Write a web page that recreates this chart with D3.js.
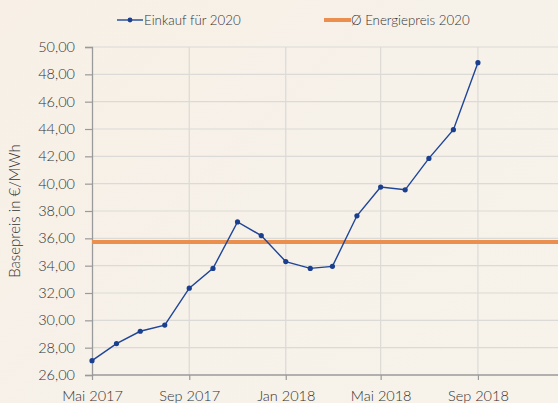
<!DOCTYPE html>
<html>
<head>
<meta charset="utf-8">
<script src="https://cdn.jsdelivr.net/npm/d3@7"></script>
<style>
  html, body { margin: 0; padding: 0; }
  body { width: 558px; height: 403px; overflow: hidden;
    background: linear-gradient(135deg, #f8f0e6 0%, #f6f1e9 50%, #f7f2ea 100%); }
  svg text { font-family: Lato, "Open Sans", sans-serif; font-weight: 300; fill: #333; }
</style>
</head>
<body>
<div id="chart"></div>
<script>
// monthly purchase prices (€/MWh) for 2020 delivery
const months = ["2017-05","2017-06","2017-07","2017-08","2017-09","2017-10","2017-11","2017-12",
  "2018-01","2018-02","2018-03","2018-04","2018-05","2018-06","2018-07","2018-08","2018-09"];
const einkauf = [27.05, 28.3, 29.2, 29.65, 32.35, 33.8, 37.2, 36.2,
  34.3, 33.8, 33.95, 37.65, 39.75, 39.55, 41.85, 43.95, 48.85];
const avgPrice = 35.73;
const yTicks = [26, 28, 30, 32, 34, 36, 38, 40, 42, 44, 46, 48, 50];
const xTicks = ["2017-05","2017-09","2018-01","2018-05","2018-09"];
const monthNames = ["Jan","Feb","Mrz","Apr","Mai","Jun","Jul","Aug","Sep","Okt","Nov","Dez"];

const W = 558, H = 403;
const parse = d3.timeParse("%Y-%m");
const data = months.map((m, i) => ({ date: parse(m), v: einkauf[i] }));

const svg = d3.select("#chart").append("svg")
  .attr("width", W).attr("height", H);

const x = d3.scaleTime()
  .domain([parse("2017-05"), new Date(2018, 11, 10)])
  .range([92, 557]);
const y = d3.scaleLinear().domain([26, 50]).range([375, 47]);

// grid
svg.append("g").selectAll("line").data(yTicks.slice(1)).enter().append("line")
  .attr("x1", 92).attr("x2", W).attr("y1", d => y(d)).attr("y2", d => y(d))
  .style("stroke", "#dcdad6").style("stroke-width", 1.2);
svg.append("g").selectAll("line").data(xTicks.slice(1)).enter().append("line")
  .attr("x1", d => x(parse(d))).attr("x2", d => x(parse(d)))
  .attr("y1", 47).attr("y2", 375)
  .style("stroke", "#dcdad6").style("stroke-width", 1.2);

// axes
const yAxis = svg.append("g").attr("transform", "translate(92,0)")
  .call(d3.axisLeft(y).tickValues(yTicks).tickSize(7).tickPadding(10)
    .tickFormat(d => d3.format(".2f")(d).replace(".", ",")));
const xAxis = svg.append("g").attr("transform", "translate(0,375)")
  .call(d3.axisBottom(x).tickValues(xTicks.map(parse)).tickSize(5).tickPadding(11)
    .tickFormat(d => monthNames[d.getMonth()] + " " + d.getFullYear()));
[yAxis, xAxis].forEach(a => {
  a.select(".domain").style("stroke", "#9a9a9a").style("stroke-width", 1.3);
  a.selectAll(".tick line").style("stroke", "#9a9a9a").style("stroke-width", 1.2);
  a.selectAll("text").style("font-size", "14.5px").style("fill", "#333");
});
xAxis.select(".domain").attr("d", "M92,0H" + W);

svg.append("text")
  .attr("transform", "translate(20,211) rotate(-90)")
  .attr("text-anchor", "middle")
  .style("font-size", "15px")
  .text("Basepreis in €/MWh");

// average line
svg.append("line")
  .attr("x1", 92).attr("x2", W).attr("y1", y(avgPrice)).attr("y2", y(avgPrice))
  .style("stroke", "#ea8f4d").style("stroke-width", 4);

// purchase line
const line = d3.line().x(d => x(d.date)).y(d => y(d.v));
svg.append("path").datum(data).attr("d", line)
  .style("fill", "none").style("stroke", "#1f4597").style("stroke-width", 1.4);
svg.append("g").selectAll("circle").data(data).enter().append("circle")
  .attr("cx", d => x(d.date)).attr("cy", d => y(d.v)).attr("r", 2.6)
  .style("fill", "#1a3f8f");

// legend
const lg = svg.append("g");
lg.append("line").attr("x1", 117).attr("x2", 143).attr("y1", 20).attr("y2", 20)
  .style("stroke", "#1f4597").style("stroke-width", 1.4);
lg.append("circle").attr("cx", 130).attr("cy", 20).attr("r", 2.4).style("fill", "#1a3f8f");
lg.append("text").attr("x", 144).attr("y", 25).style("font-size", "13.3px").text("Einkauf für 2020");
lg.append("line").attr("x1", 324).attr("x2", 351).attr("y1", 20).attr("y2", 20)
  .style("stroke", "#ea8f4d").style("stroke-width", 4);
lg.append("text").attr("x", 351).attr("y", 25).style("font-size", "13.3px").text("Ø Energiepreis 2020");
</script>
</body>
</html>
